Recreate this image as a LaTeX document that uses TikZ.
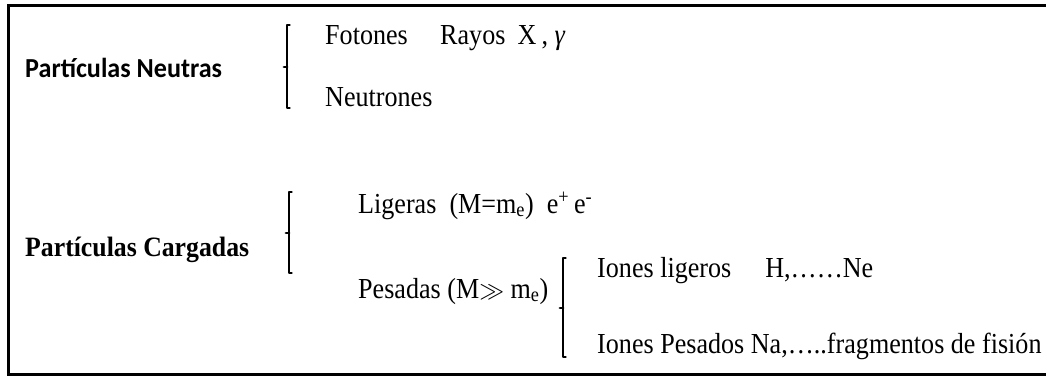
\documentclass[tikz,border=0pt]{standalone}
\usepackage{fontspec}
\setmainfont{Liberation Serif}
\newfontfamily\tallserif[FakeStretch=0.9]{Liberation Serif}
\newfontfamily\tallbold[FakeStretch=0.92,UprightFont=* Bold]{Liberation Serif}
\newfontfamily\calib[FakeStretch=0.95]{Carlito}
\begin{document}
\begin{tikzpicture}[x=1pt,y=-1pt,
  txt/.style={anchor=base west,inner sep=0pt,font=\tallserif\fontsize{29}{33}\selectfont},
  hdsans/.style={anchor=base west,inner sep=0pt,font=\calib\bfseries\fontsize{27.5}{31}\selectfont},
  hdserif/.style={anchor=base west,inner sep=0pt,font=\tallbold\fontsize{28}{32}\selectfont},
  brk/.style={line width=2.8pt,line cap=round,line join=round},
  frame/.style={line width=3pt}]
\useasboundingbox (0,0) rectangle (1046,377);
\fill[white] (0,0) rectangle (1046,377);
\draw[frame] (1046,6) -- (8,6) -- (8,374) -- (1046,374);

% Neutral
\node[hdsans] (pn) at (25,78) {Partículas Neutras};
\coordinate (b1t) at (287,25);
\coordinate (b1m) at (287,67);
\coordinate (b1b) at (287,108);
\draw[brk] ([xshift=2.5]b1t) -- (b1t) -- (b1b) -- ([xshift=2.5]b1b);
\draw[brk] (b1m) -- ([xshift=-3]b1m);
\node[txt] (fot) at (325,45) {Fotones};
\node[txt] (ray) at (440,45) {Rayos\hspace{0.42em}X\hspace{0.18em},\hspace{0.22em}\textit{γ}};
\node[txt] (neu) at (325,107) {Neutrones};

% Charged
\node[hdserif] (pc) at (25,256) {Partículas Cargadas};
\coordinate (b2t) at (289,192);
\coordinate (b2m) at (289,233);
\coordinate (b2b) at (289,273);
\draw[brk] ([xshift=2.5]b2t) -- (b2t) -- (b2b) -- ([xshift=2.5]b2b);
\draw[brk] (b2m) -- ([xshift=-3]b2m);
\node[txt] (lig) at (358,213) {Ligeras\ \ (M=m\textsubscript{e})\ \ e\textsuperscript{+}\,e\textsuperscript{-}};
\node[txt] (pes) at (358,298) {Pesadas (M$\gg$ m\textsubscript{e})};

\coordinate (b3t) at (563,258);
\coordinate (b3m) at (563,308);
\coordinate (b3b) at (563,357);
\draw[brk] ([xshift=2.5]b3t) -- (b3t) -- (b3b) -- ([xshift=2.5]b3b);
\draw[brk] (b3m) -- ([xshift=-3]b3m);
\node[txt] (il) at (597,277) {Iones ligeros\hspace{34pt}H,……Ne};
\node[txt] (ip) at (597,353) {Iones Pesados Na,…..fragmentos de fisión};
\end{tikzpicture}
\end{document}
